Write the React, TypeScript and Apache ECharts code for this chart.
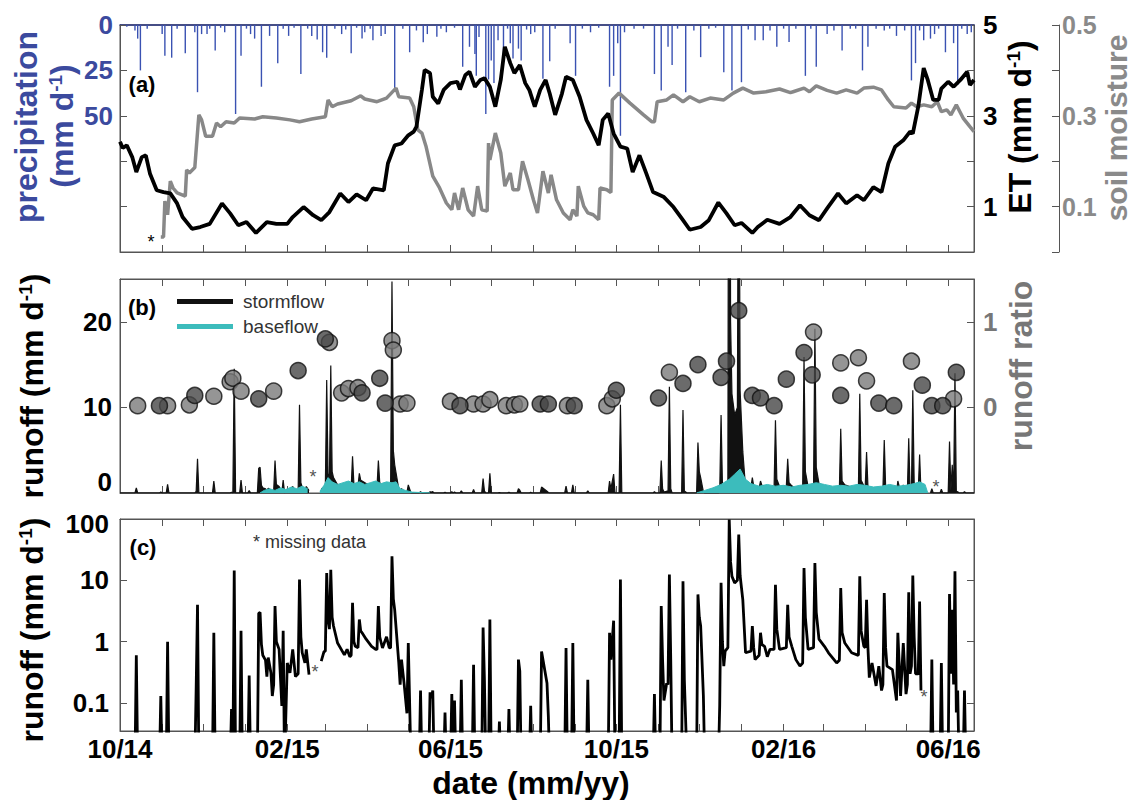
import React, { useEffect, useRef } from 'react';
import * as echarts from 'echarts';

// ---------------- categories (daily, 2014-10-01 .. 2016-06-20) ----------------
const START_UTC = Date.UTC(2014, 9, 1);
const DAY_COUNT = 629;
const dates: string[] = [];
for (let i = 0; i < DAY_COUNT; i++) {
  dates.push(new Date(START_UTC + i * 86400000).toISOString().slice(0, 10));
}
const labelMonths = ['10', '02', '06'];

// ---------------- data: [day index since 2014-10-01, value] ----------------
const precipitation: [number, number][] = [
  [5, 1], [11, 3], [13, 7.5], [15, 25], [20, 2], [31, 5], [33, 17], [38, 18], [42, 2], [48, 15.5],
  [55, 4], [57, 37], [60, 5], [64, 5], [66, 2], [70, 14], [74, 1.5], [77, 4], [85, 49], [89, 17],
  [93, 2], [96, 5], [99, 7.5], [104, 34], [110, 6], [116, 21], [120, 2], [124, 6], [128, 1.5], [133, 27],
  [138, 2], [141, 6], [145, 8], [149, 15], [152, 18], [158, 2], [163, 5], [166, 2.5], [170, 15.5], [174, 1.5],
  [178, 7.5], [180, 4], [184, 2], [186, 8.4], [192, 6], [195, 5], [202, 35], [208, 2], [213, 15], [218, 3],
  [223, 9.5], [226, 5], [233, 6.5], [236, 2], [240, 4], [246, 1.5], [252, 23], [257, 12], [261, 16], [262, 28],
  [264, 6.6], [269, 49], [271, 30], [273, 19.5], [275, 32], [278, 8.4], [282, 17], [285, 2], [287, 10], [289, 18.5],
  [293, 13], [295, 19.5], [299, 2.5], [302, 5], [305, 4], [311, 29.6], [316, 20], [320, 2], [331, 10], [335, 28],
  [340, 2], [346, 4], [352, 1.5], [360, 34], [363, 28], [366, 10], [368, 61], [371, 4], [378, 2], [385, 2],
  [393, 27], [398, 36], [403, 12], [406, 22], [410, 2], [416, 37], [422, 3], [427, 17.7], [433, 2], [438, 1.5],
  [444, 26], [450, 36], [457, 31.5], [462, 2.5], [467, 8.4], [473, 8.4], [478, 3], [483, 12], [488, 2], [492, 9.4],
  [497, 2], [504, 28], [508, 2], [512, 23], [520, 5], [525, 3], [531, 14], [537, 2], [541, 2], [546, 25],
  [550, 12], [556, 2], [562, 3], [566, 2], [571, 6], [577, 3], [582, 30.5], [585, 21], [588, 3], [591, 8.4],
  [596, 7.5], [599, 5], [602, 2], [607, 15], [613, 10], [616, 33], [619, 2], [623, 5], [626, 4],
];

const evapotranspiration: [number, number][] = [
  [0, 2.43], [2, 2.29], [5, 2.35], [9, 2.09], [12, 1.76], [16, 2.09], [19, 2.13], [22, 1.73], [27, 1.36], [32, 1.32],
  [37, 1.29], [42, 1.07], [46, 0.77], [53, 0.51], [59, 0.55], [66, 0.62], [75, 1.07], [81, 0.85], [87, 0.59], [93, 0.66],
  [100, 0.42], [108, 0.66], [115, 0.62], [123, 0.62], [127, 0.77], [135, 0.99], [142, 0.81], [148, 0.7], [154, 0.88], [162, 1.29],
  [168, 1.1], [174, 1.27], [181, 1.14], [186, 1.4], [194, 1.36], [197, 1.95], [202, 2.35], [207, 2.39], [212, 2.57], [216, 2.65],
  [218, 2.76], [222, 3.57], [224, 4.01], [228, 3.94], [230, 3.42], [234, 3.27], [238, 3.57], [243, 3.72], [248, 3.75], [250, 3.58],
  [254, 3.9], [257, 3.97], [261, 3.64], [265, 3.79], [268, 3.83], [272, 3.64], [276, 3.2], [280, 3.79], [283, 4.52], [287, 4.16],
  [290, 3.94], [294, 4.12], [298, 3.72], [301, 3.57], [305, 3.2], [309, 3.57], [313, 3.79], [316, 3.49], [320, 3.02], [325, 3.49],
  [328, 3.86], [333, 3.79], [338, 3.42], [343, 2.91], [348, 2.61], [352, 2.35], [355, 2.91], [359, 3.05], [363, 2.61], [368, 2.32],
  [373, 2.28], [377, 1.76], [382, 2.13], [387, 1.73], [392, 1.32], [400, 1.21], [407, 0.99], [414, 0.7], [419, 0.49], [427, 0.55],
  [433, 0.7], [440, 1.09], [446, 0.85], [452, 0.59], [457, 0.64], [465, 0.42], [469, 0.55], [476, 0.71], [485, 0.62], [493, 0.77],
  [500, 1.03], [507, 0.81], [514, 0.7], [520, 0.96], [528, 1.29], [534, 1.07], [542, 1.25], [547, 1.14], [554, 1.43], [560, 1.32],
  [565, 1.95], [570, 2.32], [576, 2.46], [581, 2.65], [583, 2.61], [587, 3.2], [591, 4.05], [594, 3.79], [598, 3.35], [602, 3.35],
  [604, 3.6], [609, 3.75], [613, 3.64], [618, 3.79], [623, 3.97], [625, 3.68], [628, 3.79],
];

const soilMoisture: [number, number][] = [
  [30, 0.033], [32, 0.033], [33, 0.112], [35, 0.082], [37, 0.156], [39, 0.141], [42, 0.13], [48, 0.123], [49, 0.181], [51, 0.174],
  [55, 0.186], [56, 0.225], [58, 0.302], [60, 0.291], [63, 0.255], [68, 0.255], [71, 0.284], [74, 0.276], [78, 0.287], [84, 0.284],
  [88, 0.295], [99, 0.293], [105, 0.298], [115, 0.295], [125, 0.291], [132, 0.287], [141, 0.293], [151, 0.298], [153, 0.335], [156, 0.32],
  [160, 0.326], [170, 0.333], [177, 0.344], [180, 0.337], [189, 0.331], [196, 0.339], [203, 0.361], [205, 0.342], [213, 0.339], [216, 0.32],
  [219, 0.269], [222, 0.262], [225, 0.233], [230, 0.167], [235, 0.141], [240, 0.108], [244, 0.093], [246, 0.13], [249, 0.093], [252, 0.141],
  [256, 0.093], [260, 0.079], [263, 0.145], [266, 0.093], [270, 0.09], [271, 0.24], [272, 0.203], [276, 0.262], [280, 0.218], [283, 0.145],
  [287, 0.174], [289, 0.137], [293, 0.137], [296, 0.2], [300, 0.159], [304, 0.115], [307, 0.086], [311, 0.178], [315, 0.13], [317, 0.17],
  [321, 0.115], [326, 0.086], [331, 0.071], [333, 0.093], [336, 0.079], [337, 0.145], [341, 0.101], [344, 0.086], [348, 0.082], [352, 0.071],
  [353, 0.141], [358, 0.137], [361, 0.131], [362, 0.335], [367, 0.35], [375, 0.328], [385, 0.302], [391, 0.287], [393, 0.287], [395, 0.331],
  [402, 0.335], [407, 0.346], [414, 0.331], [419, 0.342], [426, 0.331], [434, 0.339], [444, 0.335], [451, 0.35], [458, 0.361], [466, 0.35],
  [475, 0.353], [485, 0.359], [493, 0.351], [495, 0.353], [503, 0.361], [507, 0.353], [512, 0.366], [520, 0.356], [527, 0.35], [534, 0.357],
  [542, 0.35], [547, 0.361], [554, 0.363], [560, 0.357], [565, 0.335], [569, 0.32], [578, 0.317], [582, 0.328], [586, 0.32], [591, 0.324],
  [597, 0.32], [601, 0.331], [604, 0.309], [608, 0.313], [611, 0.302], [615, 0.324], [620, 0.295], [625, 0.276], [628, 0.265],
];

// total runoff (mm/d); '-' = missing data
const runoff: [number, number | string][] = [
  [0, 0.01], [11, 0.01], [12, 0.6], [13, 0.01], [29, 0.01], [30, 0.13], [31, 0.01], [34, 0.01], [35, 1.0], [36, 0.01],
  [55, 0.01], [56, 0.17], [57, 4.0], [58, 0.01], [68, 0.01], [69, 1.4], [70, 0.01], [81, 0.01], [82, 0.08], [83, 0.01],
  [84, 14.5], [85, 0.01], [88, 0.01], [89, 1.5], [90, 0.01], [94, 0.01], [95, 0.28], [96, 0.01],
  [101, 0.01], [102, 2.9], [103, 3.0], [104, 0.9], [105, 0.6], [107, 0.5], [108, 0.27], [109, 0.55], [111, 0.31], [112, 0.13],
  [113, 0.2], [114, 3.8], [115, 1.0], [117, 0.75], [119, 0.09], [120, 1.5], [121, 0.01], [123, 0.45], [125, 0.31], [127, 0.75],
  [129, 0.27], [131, 0.3], [132, 10.3], [133, 1.2], [134, 0.66], [136, 0.45], [137, 0.75], [139, 0.29], [140, '-'],
  [148, 0.48], [150, 0.69], [151, 0.7], [152, 13.2], [153, 2.3], [154, 1.6], [155, 14.9], [156, 2.5], [157, 1.8], [160, 0.95],
  [165, 0.61], [167, 0.75], [169, 0.57], [170, 0.6], [171, 4.3], [172, 1.0], [173, 0.84], [175, 0.8], [176, 2.3], [177, 1.5],
  [178, 1.4], [181, 1.1], [185, 0.84], [188, 0.75], [189, 0.75], [190, 3.8], [191, 1.2], [193, 0.79], [196, 1.2], [198, 0.79],
  [199, 0.8], [200, 24.7], [201, 5.0], [202, 3.3], [205, 0.45], [206, 0.2], [207, 0.51], [209, 0.2], [211, 0.068], [212, 0.95],
  [214, 0.01],
  [220, 0.01], [221, 0.16], [222, 0.01], [227, 0.01], [228, 0.15], [229, 0.12], [230, 0.16], [231, 0.01], [238, 0.01], [239, 0.07],
  [240, 0.01], [243, 0.01], [244, 0.14], [245, 0.01], [246, 0.11], [247, 0.01], [250, 0.01], [251, 0.24], [252, 0.01], [259, 0.01],
  [260, 0.42], [261, 0.01], [266, 0.01], [267, 1.7], [268, 0.23], [269, 0.01], [271, 0.01], [272, 2.3], [273, 0.01], [278, 0.01],
  [279, 0.05], [280, 0.01], [285, 0.01], [286, 0.08], [287, 0.01], [292, 0.01], [293, 0.51], [294, 0.33], [295, 0.01], [301, 0.01],
  [302, 0.09], [303, 0.01], [309, 0.01], [310, 0.69], [314, 0.21], [315, 0.06], [316, 0.01], [327, 0.01], [328, 0.79], [329, 0.01],
  [332, 0.01], [333, 0.95], [334, 0.01], [343, 0.01], [344, 0.24], [345, 0.01], [359, 0.01], [360, 1.4], [361, 0.51], [363, 2.2],
  [364, 0.01], [367, 0.01], [368, 10.3], [369, 0.01],
  [392, 0.01], [393, 0.14], [394, 0.01], [397, 0.01], [398, 3.8], [399, 0.5], [400, 0.11], [402, 0.21], [403, 0.2], [404, 12.4],
  [405, 0.5], [406, 0.01], [413, 0.01], [414, 9.7], [415, 0.24], [417, 0.01], [424, 0.01], [425, 5.9], [426, 2.5], [427, 1.8],
  [429, 0.13], [430, 0.01],
  [440, 0.01], [441, 0.09], [442, 9.1], [443, 1.0], [444, 0.4], [445, 0.7], [447, 0.8], [448, 98], [449, 20], [450, 11.6],
  [452, 9.1], [454, 10], [455, 55.7], [456, 12], [458, 4.8], [460, 0.66], [464, 0.7], [465, 1.8], [466, 0.8], [467, 0.51],
  [470, 0.6], [471, 1.4], [472, 0.9], [474, 0.84], [476, 0.57], [478, 0.75], [481, 0.75], [482, 8.5], [483, 1.6], [485, 0.75],
  [490, 0.8], [491, 4.0], [492, 1.2], [494, 0.84], [497, 0.51], [500, 0.4], [502, 0.45], [503, 15.9], [504, 2.5], [506, 0.75],
  [510, 0.8], [511, 19.2], [512, 3.0], [514, 1.1], [518, 0.84], [521, 0.66], [527, 0.45], [529, 0.5], [530, 7.5], [531, 1.4],
  [533, 0.95], [538, 0.66], [542, 0.61], [543, 0.6], [544, 11.6], [545, 1.5], [547, 0.84], [548, 0.8], [549, 4.8], [550, 0.8],
  [551, 0.26], [553, 0.45], [556, 0.19], [558, 0.4], [560, 0.16], [561, 0.2], [562, 6.2], [563, 0.8], [564, 0.4], [568, 0.35],
  [571, 0.11], [572, 1.4], [574, 0.13], [576, 0.95], [578, 0.14], [579, 0.2], [580, 6.4], [581, 0.3], [582, 0.4], [583, 12],
  [584, 1.2], [585, 0.3], [587, 0.3], [588, 4.5], [589, 0.16], [590, '-'],
  [596, 0.01], [597, 0.51], [598, 0.01], [603, 0.01], [604, 0.45], [605, 0.01], [609, 0.01], [610, 6], [611, 0.3], [612, 3.3],
  [613, 0.2], [614, 14], [615, 0.07], [616, 0.16], [617, 0.01], [620, 0.01], [621, 0.16], [622, 0.01], [628, 0.01],
];

const baseflow: [number, number | string][] = [
  [103, 0.01], [106, 0.3], [110, 0.5], [114, 0.3], [118, 0.6], [122, 0.4], [126, 0.7], [130, 0.5], [134, 0.8], [138, 0.5], [139, '-'],
  [147, 0.2], [150, 0.9], [153, 1.8], [156, 1.3], [160, 1.0], [164, 1.2], [168, 1.4], [172, 1.1], [176, 1.3], [180, 1.0],
  [184, 1.2], [188, 1.4], [192, 1.1], [196, 1.3], [200, 1.2], [203, 1.3], [206, 0.5], [210, 0.3], [215, 0.1], [222, 0.05], [228, 0.01],
  [229, '-'],
  [424, 0.01], [430, 0.3], [436, 0.6], [442, 1.0], [448, 1.6], [452, 2.2], [456, 2.8], [460, 1.6], [464, 1.1], [470, 0.8],
  [476, 1.0], [482, 0.8], [488, 0.9], [494, 0.7], [500, 0.9], [506, 1.0], [512, 1.2], [518, 1.0], [524, 0.8], [530, 0.9],
  [536, 0.8], [542, 1.0], [548, 0.9], [554, 0.7], [560, 0.8], [566, 1.0], [572, 0.8], [578, 0.9], [584, 1.1], [588, 1.3],
  [592, 1.0], [594, 0.01],
];

const ratioLight: [number, number][] = [
  [13, 0.02], [35, 0.02], [51, 0.03], [69, 0.13], [81, 0.3], [83, 0.34], [89, 0.19], [113, 0.19], [154, 0.76], [163, 0.17],
  [168, 0.22], [175, 0.23], [200, 0.78], [201, 0.67], [206, 0.04], [211, 0.05], [243, 0.07], [260, 0.04], [267, 0.04], [272, 0.09],
  [284, 0.02], [290, 0.03], [294, 0.04], [329, 0.02], [358, 0.02], [362, 0.1], [404, 0.41], [510, 0.88], [530, 0.52], [543, 0.58],
  [549, 0.31], [582, 0.54], [613, 0.1],
];
const ratioDark: [number, number][] = [
  [29, 0.02], [55, 0.14], [102, 0.1], [131, 0.43], [151, 0.8], [178, 0.17], [191, 0.34], [195, 0.05], [250, 0.02], [309, 0.04],
  [315, 0.04], [334, 0.02], [365, 0.2], [396, 0.11], [414, 0.28], [425, 0.5], [442, 0.35], [446, 0.54], [455, 1.13], [465, 0.14],
  [471, 0.11], [481, 0.02], [490, 0.33], [503, 0.64], [509, 0.38], [530, 0.14], [558, 0.05], [569, 0.02], [590, 0.26], [597, 0.02],
  [605, 0.02], [615, 0.41],
];

// ---------------- styling ----------------
const FONT = '"Liberation Sans", Arial, Helvetica, sans-serif';
const AX = '#555';
const BLUE = '#3a52b2';
const BLUE_T = '#3b4a9e';
const GRAY_T = '#8a8a8a';
const TEAL = '#3cbcbc';

const isMonthStart = (_i: number, v: string) => v.slice(8) === '01';
const isLabelDay = (_i: number, v: string) => v.slice(8) === '01' && labelMonths.includes(v.slice(5, 7));

const lbl = (color: string, size = 26) => ({ color, fontSize: size, fontWeight: 'bold', fontFamily: FONT });

const xAxisBase = (gridIndex: number, position: string, extra: any = {}) => ({
  type: 'category',
  gridIndex,
  position,
  data: dates,
  boundaryGap: false,
  axisLine: { show: true, onZero: false, lineStyle: { color: AX, width: 1 } },
  axisTick: { show: true, inside: true, length: 7, interval: isMonthStart, lineStyle: { color: AX, width: 1 } },
  axisLabel: { show: false },
  splitLine: { show: false },
  ...extra,
});

const yBase = (extra: any) => ({
  type: 'value',
  axisLine: { show: true, lineStyle: { color: AX, width: 1 } },
  axisTick: { show: true, inside: true, length: 7, lineStyle: { color: AX, width: 1 } },
  splitLine: { show: false },
  ...extra,
});

const vText = (x: number, y: number, text: string, color: string, size = 32) => ({
  type: 'text',
  x,
  y,
  rotation: Math.PI / 2,
  silent: true,
  style: {
    text,
    fill: color,
    font: `bold ${size}px ${FONT}`,
    align: 'center',
    verticalAlign: 'middle',
    textAlign: 'center',
    textVerticalAlign: 'middle',
    rich: {
      sup: { fontSize: 19, fontWeight: 'bold', fontFamily: FONT, fill: color, color, verticalAlign: 'top' },
    },
  },
});

const plainText = (x: number, y: number, text: string, color: string, font: string, align = 'center') => ({
  type: 'text',
  x,
  y,
  silent: true,
  style: { text, fill: color, font, align, verticalAlign: 'middle', textAlign: align, textVerticalAlign: 'middle' },
});

export default function App() {
  const ref = useRef<HTMLDivElement>(null);

  useEffect(() => {
    if (!ref.current) return;
    const chart = echarts.init(ref.current, undefined, { renderer: 'svg' });
    const gridCommon = {
      left: 120,
      right: 158,
      show: true,
      borderColor: AX,
      borderWidth: 1,
      backgroundColor: 'transparent',
      containLabel: false,
      outerBoundsMode: 'none',
    };
    const option: any = {
      animation: false,
      backgroundColor: '#ffffff',
      grid: [
        { ...gridCommon, top: 25, height: 227 },
        { ...gridCommon, top: 279, height: 214 },
        { ...gridCommon, top: 519, height: 212 },
      ],
      legend: {
        show: true,
        data: [
          { name: 'stormflow', icon: 'rect' },
          { name: 'baseflow', icon: 'rect' },
        ],
        orient: 'vertical',
        left: 172,
        top: 287,
        itemWidth: 56,
        itemHeight: 5,
        itemGap: 6,
        selectedMode: false,
        textStyle: { fontSize: 19, color: '#333', fontFamily: FONT, padding: [0, 0, 0, 5] },
      },
      xAxis: [
        xAxisBase(0, 'bottom'),
        xAxisBase(0, 'top', { axisTick: { show: false }, axisLine: { show: true, onZero: false, lineStyle: { color: '#26307a', width: 1.5 } } }),
        xAxisBase(1, 'bottom'),
        xAxisBase(1, 'top'),
        xAxisBase(2, 'bottom', {
          axisLabel: {
            show: true,
            interval: isLabelDay,
            margin: 5,
            ...lbl('#000', 26),
            formatter: (v: string) => `${v.slice(5, 7)}/${v.slice(2, 4)}`,
          },
        }),
        xAxisBase(2, 'top'),
      ],
      yAxis: [
        yBase({
          gridIndex: 0, position: 'left', inverse: true, min: 0, max: 125, interval: 25,
          axisLabel: { ...lbl(BLUE_T), margin: 7, formatter: (v: number) => (v <= 50 ? String(v) : '') },
        }),
        yBase({
          gridIndex: 0, position: 'right', min: 0, max: 5, interval: 1,
          axisLabel: { ...lbl('#000'), margin: 9, formatter: (v: number) => (Math.round(v) % 2 === 1 ? String(Math.round(v)) : '') },
        }),
        yBase({
          gridIndex: 0, position: 'right', offset: 85, min: 0, max: 0.5, interval: 0.1,
          axisLabel: {
            ...lbl(GRAY_T, 25), margin: 3,
            formatter: (v: number) => { const k = Math.round(v * 10); return k % 2 === 1 ? (k / 10).toFixed(1) : ''; },
          },
        }),
        yBase({
          gridIndex: 1, position: 'left', min: 0, max: 25, interval: 10,
          axisLabel: {
            ...lbl('#000'), margin: 8,
            formatter: (v: number) => (v === 0 ? '{lo|0}' : v <= 20 ? String(v) : ''),
            rich: { lo: { ...lbl('#000'), padding: [0, 0, 22, 0] } },
          },
        }),
        yBase({
          gridIndex: 1, position: 'right', min: -1, max: 1.5, interval: 1,
          axisLabel: { ...lbl('#777'), margin: 9, formatter: (v: number) => (v === 0 || v === 1 ? String(v) : '') },
        }),
        yBase({
          type: 'log', logBase: 10, gridIndex: 2, position: 'left', min: 0.035, max: 100,
          axisLabel: {
            ...lbl('#000'), margin: 11,
            formatter: (v: number) => (v < 0.05 ? '' : v < 1 ? '0.1' : v > 50 ? '{dn|100}' : String(Math.round(v))),
            rich: { dn: { ...lbl('#000'), padding: [10, 0, 0, 0] } },
          },
        }),
        yBase({
          type: 'log', logBase: 10, gridIndex: 2, position: 'right', min: 0.035, max: 100,
          axisLabel: { show: false },
        }),
      ],
      series: [
        {
          name: 'precipitation', type: 'bar', xAxisIndex: 0, yAxisIndex: 0, data: precipitation,
          barWidth: 1.4, itemStyle: { color: BLUE }, z: 1, silent: true,
        },
        {
          name: 'soil moisture', type: 'line', xAxisIndex: 0, yAxisIndex: 2, data: soilMoisture,
          showSymbol: false, symbol: 'none', lineStyle: { color: '#888', width: 3.5 }, itemStyle: { color: '#888' }, z: 2,
        },
        {
          name: 'ET', type: 'line', xAxisIndex: 0, yAxisIndex: 1, data: evapotranspiration,
          showSymbol: false, symbol: 'none', lineStyle: { color: '#000', width: 3.8 }, itemStyle: { color: '#000' }, z: 3,
        },
        {
          name: 'stormflow', type: 'line', xAxisIndex: 2, yAxisIndex: 3, data: runoff,
          showSymbol: false, symbol: 'none', lineStyle: { color: '#111', width: 1.2 }, itemStyle: { color: '#111' },
          areaStyle: { color: '#111', opacity: 1 }, z: 2,
        },
        {
          name: 'baseflow', type: 'line', xAxisIndex: 2, yAxisIndex: 3, data: baseflow,
          showSymbol: false, symbol: 'none', lineStyle: { color: TEAL, width: 1 }, itemStyle: { color: TEAL },
          areaStyle: { color: TEAL, opacity: 1 }, z: 3,
        },
        {
          name: 'ratio (light)', type: 'scatter', xAxisIndex: 2, yAxisIndex: 4, data: ratioLight,
          symbol: 'circle', symbolSize: 16, itemStyle: { color: '#7a7a7a', borderColor: '#111', borderWidth: 1.5 }, z: 5,
        },
        {
          name: 'ratio (dark)', type: 'scatter', xAxisIndex: 2, yAxisIndex: 4, data: ratioDark,
          symbol: 'circle', symbolSize: 16, itemStyle: { color: '#464646', borderColor: '#111', borderWidth: 1.5 }, z: 5,
        },
        {
          name: 'runoff', type: 'line', xAxisIndex: 4, yAxisIndex: 5, data: runoff,
          showSymbol: false, symbol: 'none', lineStyle: { color: '#000', width: 2.8 }, itemStyle: { color: '#000' }, z: 3,
        },
      ],
      graphic: [
        vText(26, 127, 'precipitation', BLUE_T),
        vText(62, 126, '(mm d{sup|-1})', BLUE_T),
        vText(1020, 127, 'ET (mm d{sup|-1})', '#000'),
        vText(1116, 128, 'soil moisture', GRAY_T, 30),
        vText(32, 386, 'runoff (mm d{sup|-1})', '#000'),
        vText(1021, 366, 'runoff ratio', '#777'),
        vText(32, 630, 'runoff (mm d{sup|-1})', '#000'),
        plainText(531, 783, 'date (mm/yy)', '#000', `bold 32px ${FONT}`),
        plainText(142, 84, '(a)', '#000', `bold 22px ${FONT}`),
        plainText(142, 307, '(b)', '#000', `bold 22px ${FONT}`),
        plainText(143, 547, '(c)', '#000', `bold 22px ${FONT}`),
        plainText(253, 542, '* missing data', '#333', `18px ${FONT}`, 'left'),
        plainText(151, 242, '*', '#000', `18px ${FONT}`),
        plainText(313, 477, '*', '#555', `18px ${FONT}`),
        plainText(936, 487, '*', '#555', `18px ${FONT}`),
        plainText(315, 672, '*', '#555', `18px ${FONT}`),
        plainText(924, 697, '*', '#555', `18px ${FONT}`),
      ],
    };
    chart.setOption(option);
    return () => chart.dispose();
  }, []);

  return (
    <div
      ref={ref}
      style={{ position: 'absolute', left: 0, top: 0, width: 1132, height: 800, background: '#fff' }}
    />
  );
}
